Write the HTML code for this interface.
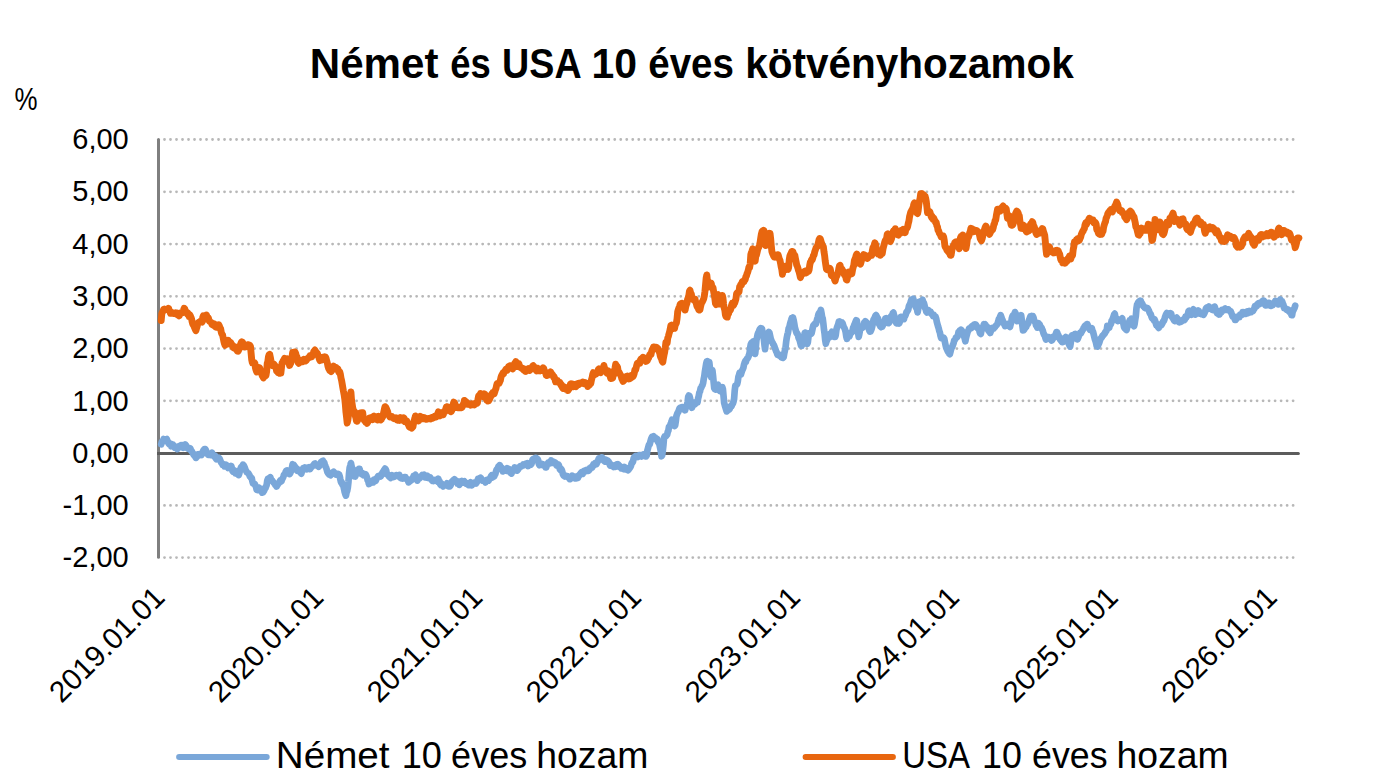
<!DOCTYPE html>
<html><head><meta charset="utf-8"><title>Német és USA 10 éves kötvényhozamok</title>
<style>
html,body{margin:0;padding:0;background:#fff;}
body{width:1384px;height:780px;overflow:hidden;font-family:"Liberation Sans",sans-serif;}
svg{display:block;}
text{font-family:"Liberation Sans",sans-serif;fill:#000;}
.title{font-weight:bold;font-size:41.6px;}
.tick text{font-size:29.6px;}
.leg{font-size:36.5px;}
.grid line{stroke:#b8b8b8;stroke-width:2.8;stroke-dasharray:0.01 5.9932;stroke-linecap:round;}
</style></head>
<body>
<svg width="1384" height="780" viewBox="0 0 1384 780">
<rect width="1384" height="780" fill="#ffffff"/>
<g transform="translate(309.8,77.8) scale(1.0121,1)"><text class="title">Német</text></g><g transform="translate(450.35,77.8) scale(0.8737,1)"><text class="title">és</text></g><g transform="translate(502.11,77.8) scale(0.9054,1)"><text class="title">USA</text></g><g transform="translate(591.38,77.8) scale(0.9843,1)"><text class="title">10</text></g><g transform="translate(648.26,77.8) scale(0.9256,1)"><text class="title">éves</text></g><g transform="translate(745.14,77.8) scale(0.9738,1)"><text class="title">kötvényhozamok</text></g>
<g class="tick"><g transform="translate(14.6,109.8) scale(0.85,1)"><text style="font-size:30.5px">%</text></g></g>
<g class="grid">
<line x1="164.5" y1="139.5" x2="1295" y2="139.5"/>
<line x1="164.5" y1="191.8" x2="1295" y2="191.8"/>
<line x1="164.5" y1="244.1" x2="1295" y2="244.1"/>
<line x1="164.5" y1="296.3" x2="1295" y2="296.3"/>
<line x1="164.5" y1="348.6" x2="1295" y2="348.6"/>
<line x1="164.5" y1="400.8" x2="1295" y2="400.8"/>
<line x1="164.5" y1="505.4" x2="1295" y2="505.4"/>
<line x1="164.5" y1="557.6" x2="1295" y2="557.6"/>
</g>
<line x1="158.5" y1="139.5" x2="158.5" y2="557.3" stroke="#7f7f7f" stroke-width="3" stroke-linecap="round"/>
<line x1="157" y1="453.5" x2="1298.4" y2="453.5" stroke="#5c5c5c" stroke-width="3"/><circle cx="1298.4" cy="453.5" r="1.5" fill="#5c5c5c"/>
<g class="tick">
<g transform="translate(128.7,149) scale(0.98,1)"><text text-anchor="end">6,00</text></g>
<g transform="translate(128.7,201) scale(0.98,1)"><text text-anchor="end">5,00</text></g>
<g transform="translate(128.7,254) scale(0.98,1)"><text text-anchor="end">4,00</text></g>
<g transform="translate(128.7,306) scale(0.98,1)"><text text-anchor="end">3,00</text></g>
<g transform="translate(128.7,358) scale(0.98,1)"><text text-anchor="end">2,00</text></g>
<g transform="translate(128.7,411) scale(0.98,1)"><text text-anchor="end">1,00</text></g>
<g transform="translate(128.7,463) scale(0.98,1)"><text text-anchor="end">0,00</text></g>
<g transform="translate(128.7,515) scale(0.98,1)"><text text-anchor="end">-1,00</text></g>
<g transform="translate(128.7,567) scale(0.98,1)"><text text-anchor="end">-2,00</text></g>
</g>
<g class="tick">
<g transform="translate(166.3,599.2) rotate(-45) scale(1,1)"><text text-anchor="end">2019.01.01</text></g>
<g transform="translate(325.2,599.2) rotate(-45) scale(1,1)"><text text-anchor="end">2020.01.01</text></g>
<g transform="translate(484.1,599.2) rotate(-45) scale(1,1)"><text text-anchor="end">2021.01.01</text></g>
<g transform="translate(643.0,599.2) rotate(-45) scale(1,1)"><text text-anchor="end">2022.01.01</text></g>
<g transform="translate(801.9,599.2) rotate(-45) scale(1,1)"><text text-anchor="end">2023.01.01</text></g>
<g transform="translate(960.8,599.2) rotate(-45) scale(1,1)"><text text-anchor="end">2024.01.01</text></g>
<g transform="translate(1119.7,599.2) rotate(-45) scale(1,1)"><text text-anchor="end">2025.01.01</text></g>
<g transform="translate(1278.6,599.2) rotate(-45) scale(1,1)"><text text-anchor="end">2026.01.01</text></g>
</g>
<polyline fill="none" stroke="#7aa7d9" stroke-width="6.7" stroke-linejoin="round" stroke-linecap="round" points="161.2,444.26 161.82,441.95 162.44,441.72 163.06,440.56 163.68,439.05 164.3,439.26 164.92,439.87 165.54,440.69 166.16,439.48 166.78,439.13 167.4,440.86 168.02,441.84 168.64,443.52 169.26,444.19 169.88,443.83 170.5,443.7 171.12,446.26 171.74,445.45 172.36,444.79 172.98,444.61 173.6,445.97 174.22,447.13 174.84,447.72 175.46,447.93 176.08,448.13 176.7,448.53 177.32,449.02 177.94,448.47 178.56,446.4 179.18,447.32 179.8,445.96 180.42,446.2 181.04,445.16 181.66,445.78 182.28,445.09 182.9,445.33 183.52,447.87 184.14,446.21 184.76,445.85 185.38,444.5 186.0,445.42 186.62,447.19 187.24,447.98 187.86,448.77 188.48,448.86 189.1,448.04 189.72,449.0 190.34,448.44 190.96,450.7 191.58,450.73 192.2,452.22 192.82,452.91 193.44,454.52 194.06,454.39 194.68,456.06 195.3,456.4 195.92,457.86 196.54,457.2 197.16,456.14 197.78,454.5 198.4,454.63 199.02,454.17 199.64,455.23 200.26,454.34 200.88,454.74 201.5,455.02 202.12,453.83 202.74,452.05 203.36,450.47 203.98,449.75 204.6,449.0 205.22,449.11 205.84,450.07 206.46,452.16 207.08,453.23 207.7,454.25 208.32,454.91 208.94,454.63 209.56,453.98 210.18,454.05 210.8,454.87 211.42,453.48 212.04,452.75 212.66,455.08 213.28,455.18 213.9,456.13 214.52,456.85 215.14,455.76 215.76,458.25 216.38,459.23 217.0,458.58 217.62,458.87 218.24,458.67 218.86,457.86 219.48,458.5 220.1,459.86 220.72,461.66 221.34,462.73 221.96,463.18 222.58,464.9 223.2,464.07 223.82,465.15 224.44,466.25 225.06,465.88 225.68,464.63 226.3,464.92 226.92,466.1 227.54,466.82 228.16,468.08 228.78,466.61 229.4,466.65 230.02,467.24 230.64,467.49 231.26,466.03 231.88,468.2 232.5,470.96 233.12,471.64 233.74,470.44 234.36,470.3 234.98,470.9 235.6,473.3 236.22,473.17 236.84,472.83 237.46,474.08 238.08,473.56 238.7,475.1 239.32,473.41 239.94,470.29 240.56,468.49 241.18,467.0 241.8,466.59 242.42,466.47 243.04,464.71 243.66,465.37 244.28,466.61 244.9,467.91 245.52,470.14 246.14,470.8 246.76,472.24 247.38,472.72 248.0,472.9 248.62,473.67 249.24,474.67 249.86,476.46 250.48,476.87 251.1,477.86 251.72,478.01 252.34,481.16 252.96,483.33 253.58,483.69 254.2,484.2 254.82,484.09 255.44,485.64 256.06,486.95 256.68,489.78 257.3,490.11 257.92,489.36 258.54,487.52 259.16,489.89 259.78,490.26 260.4,489.04 261.02,490.0 261.64,489.11 262.26,492.62 262.88,492.41 263.5,491.73 264.12,490.6 264.74,488.21 265.36,488.49 265.98,486.6 266.6,485.18 267.22,480.85 267.84,478.94 268.46,479.31 269.08,479.18 269.7,477.76 270.32,477.18 270.94,479.2 271.56,480.56 272.18,480.51 272.8,481.36 273.42,482.39 274.04,483.09 274.66,483.44 275.28,485.0 275.9,485.32 276.52,486.59 277.14,485.4 277.76,484.56 278.38,483.18 279.0,483.01 279.62,481.76 280.24,480.54 280.86,481.65 281.48,481.05 282.1,479.25 282.72,478.21 283.34,476.83 283.96,474.89 284.58,474.15 285.2,473.0 285.82,471.41 286.44,470.58 287.06,470.36 287.68,471.54 288.3,472.38 288.92,472.36 289.54,474.03 290.16,473.42 290.78,471.78 291.4,470.59 292.02,467.36 292.64,464.19 293.26,465.56 293.88,465.08 294.5,466.52 295.12,466.72 295.74,468.51 296.36,469.85 296.98,468.72 297.6,470.88 298.22,470.54 298.84,470.4 299.46,470.7 300.08,472.01 300.7,472.94 301.32,473.67 301.94,471.51 302.56,470.53 303.18,468.11 303.8,468.36 304.42,468.74 305.04,467.49 305.66,468.06 306.28,468.37 306.9,469.19 307.52,468.09 308.14,467.48 308.76,467.2 309.38,469.05 310.0,469.11 310.62,467.9 311.24,467.32 311.86,466.69 312.48,466.21 313.1,465.55 313.72,464.95 314.34,463.7 314.96,463.4 315.58,465.04 316.2,465.36 316.82,465.48 317.44,465.51 318.06,465.97 318.68,466.68 319.3,466.09 319.92,464.78 320.54,463.37 321.16,461.97 321.78,461.54 322.4,461.12 323.02,460.84 323.64,463.13 324.26,462.63 324.88,464.79 325.5,466.33 326.12,467.7 326.74,469.56 327.36,472.01 327.98,473.01 328.6,473.93 329.22,474.53 329.84,474.48 330.46,475.27 331.08,474.53 331.7,473.41 332.32,472.63 332.94,472.25 333.56,471.72 334.18,473.47 334.8,473.73 335.42,473.29 336.04,474.56 336.66,473.7 337.28,474.52 337.9,475.12 338.52,474.05 339.14,474.69 339.76,476.32 340.38,479.51 341.0,482.2 341.62,481.95 342.24,484.3 342.86,484.94 343.48,486.37 344.1,489.15 344.72,492.27 345.34,494.11 345.96,495.63 346.58,492.4 347.2,490.73 347.82,487.61 348.44,482.02 349.06,473.05 349.68,467.7 350.3,465.59 350.92,463.04 351.54,465.95 352.16,468.92 352.78,470.78 353.4,474.37 354.02,476.3 354.64,476.34 355.26,476.49 355.88,474.66 356.5,472.94 357.12,471.16 357.74,469.55 358.36,469.57 358.98,468.79 359.6,468.86 360.22,471.71 360.84,472.78 361.46,473.93 362.08,473.32 362.7,474.29 363.32,475.14 363.94,473.74 364.56,474.93 365.18,474.26 365.8,474.49 366.42,475.91 367.04,477.73 367.66,480.32 368.28,481.12 368.9,483.98 369.52,483.3 370.14,482.14 370.76,482.76 371.38,481.46 372.0,481.19 372.62,481.96 373.24,482.31 373.86,479.72 374.48,480.01 375.1,481.1 375.72,480.88 376.34,479.31 376.96,477.9 377.58,477.17 378.2,475.95 378.82,475.87 379.44,475.72 380.06,475.51 380.68,476.35 381.3,475.45 381.92,473.49 382.54,473.8 383.16,471.67 383.78,470.55 384.4,469.7 385.02,468.64 385.64,469.3 386.26,470.86 386.88,474.34 387.5,474.44 388.12,474.69 388.74,476.11 389.36,476.77 389.98,477.37 390.6,477.99 391.22,475.71 391.84,475.21 392.46,475.7 393.08,476.21 393.7,477.1 394.32,476.8 394.94,475.93 395.56,475.6 396.18,475.12 396.8,475.22 397.42,475.97 398.04,475.64 398.66,475.17 399.28,474.99 399.9,476.66 400.52,477.86 401.14,478.31 401.76,478.46 402.38,478.58 403.0,477.98 403.62,478.28 404.24,477.03 404.86,477.12 405.48,477.16 406.1,478.77 406.72,478.82 407.34,479.53 407.96,480.63 408.58,482.32 409.2,481.71 409.82,480.44 410.44,481.02 411.06,479.49 411.68,479.77 412.3,478.84 412.92,478.26 413.54,476.03 414.16,476.58 414.78,475.48 415.4,474.9 416.02,477.48 416.64,477.89 417.26,480.63 417.88,479.65 418.5,478.36 419.12,477.54 419.74,478.16 420.36,476.91 420.98,476.42 421.6,476.0 422.22,475.01 422.84,475.55 423.46,475.46 424.08,474.92 424.7,476.57 425.32,477.43 425.94,477.54 426.56,476.9 427.18,475.74 427.8,477.36 428.42,477.91 429.04,477.05 429.66,478.13 430.28,477.65 430.9,478.82 431.52,479.77 432.14,480.64 432.76,481.02 433.38,481.06 434.0,479.98 434.62,480.02 435.24,479.94 435.86,480.11 436.48,480.44 437.1,480.83 437.72,481.82 438.34,478.77 438.96,480.51 439.58,481.32 440.2,484.24 440.82,485.07 441.44,483.5 442.06,484.66 442.68,484.79 443.3,486.43 443.92,485.1 444.54,485.12 445.16,485.04 445.78,484.95 446.4,484.43 447.02,483.25 447.64,484.82 448.26,486.29 448.88,486.33 449.5,485.69 450.12,486.14 450.74,485.07 451.36,483.1 451.98,481.41 452.6,481.27 453.22,480.2 453.84,480.28 454.46,479.36 455.08,480.06 455.7,480.49 456.32,480.67 456.94,481.13 457.56,483.64 458.18,483.46 458.8,483.13 459.42,484.75 460.04,483.62 460.66,481.47 461.28,481.99 461.9,481.04 462.52,482.62 463.14,481.64 463.76,481.89 464.38,481.37 465.0,482.75 465.62,482.79 466.24,483.83 466.86,484.17 467.48,483.74 468.1,484.7 468.72,485.11 469.34,484.48 469.96,483.2 470.58,482.23 471.2,482.98 471.82,485.33 472.44,484.26 473.06,483.45 473.68,483.14 474.3,482.69 474.92,482.61 475.54,482.47 476.16,483.37 476.78,482.29 477.4,480.91 478.02,478.85 478.64,479.25 479.26,479.31 479.88,478.24 480.5,477.68 481.12,478.43 481.74,480.0 482.36,480.66 482.98,480.8 483.6,480.56 484.22,481.09 484.84,480.8 485.46,482.43 486.08,480.44 486.7,479.94 487.32,480.98 487.94,479.96 488.56,480.57 489.18,479.44 489.8,478.78 490.42,477.76 491.04,476.13 491.66,475.39 492.28,477.48 492.9,477.09 493.52,476.64 494.14,476.48 494.76,474.98 495.38,473.83 496.0,471.46 496.62,469.55 497.24,469.57 497.86,468.21 498.48,466.35 499.1,465.98 499.72,465.21 500.34,466.52 500.96,467.13 501.58,467.73 502.2,469.24 502.82,471.44 503.44,470.74 504.06,470.4 504.68,469.95 505.3,469.81 505.92,470.15 506.54,470.66 507.16,468.26 507.78,469.4 508.4,468.9 509.02,469.02 509.64,471.68 510.26,471.24 510.88,473.07 511.5,473.53 512.12,471.52 512.74,471.21 513.36,470.97 513.98,469.82 514.6,467.54 515.22,468.19 515.84,468.74 516.46,468.34 517.08,470.67 517.7,470.02 518.32,468.97 518.94,468.19 519.56,467.07 520.18,466.18 520.8,466.15 521.42,466.44 522.04,465.8 522.66,465.71 523.28,464.45 523.9,465.21 524.52,464.42 525.14,464.67 525.76,463.73 526.38,463.41 527.0,463.94 527.62,463.21 528.24,466.0 528.86,465.48 529.48,465.23 530.1,464.37 530.72,464.68 531.34,464.11 531.96,462.32 532.58,459.49 533.2,459.08 533.82,459.72 534.44,459.02 535.06,458.02 535.68,457.75 536.3,458.04 536.92,458.96 537.54,459.03 538.16,460.32 538.78,463.76 539.4,465.16 540.02,463.88 540.64,464.08 541.26,464.05 541.88,463.92 542.5,464.93 543.12,464.39 543.74,464.49 544.36,464.86 544.98,465.58 545.6,467.43 546.22,467.35 546.84,464.92 547.46,464.0 548.08,462.85 548.7,463.24 549.32,462.72 549.94,463.16 550.56,462.51 551.18,460.49 551.8,461.37 552.42,462.04 553.04,462.77 553.66,461.78 554.28,462.54 554.9,462.44 555.52,462.93 556.14,464.48 556.76,465.69 557.38,465.65 558.0,465.29 558.62,464.79 559.24,466.46 559.86,469.17 560.48,470.01 561.1,468.94 561.72,469.88 562.34,471.84 562.96,474.33 563.58,475.61 564.2,475.98 564.82,476.39 565.44,475.61 566.06,475.8 566.68,476.17 567.3,476.16 567.92,477.04 568.54,477.3 569.16,478.23 569.78,479.21 570.4,479.0 571.02,478.48 571.64,477.5 572.26,475.73 572.88,476.15 573.5,477.16 574.12,476.5 574.74,478.17 575.36,477.85 575.98,478.37 576.6,478.17 577.22,476.54 577.84,478.03 578.46,475.76 579.08,475.93 579.7,474.42 580.32,474.09 580.94,472.84 581.56,472.25 582.18,472.84 582.8,473.81 583.42,471.74 584.04,471.11 584.66,471.59 585.28,470.5 585.9,470.97 586.52,469.89 587.14,470.41 587.76,470.41 588.38,470.88 589.0,470.27 589.62,468.47 590.24,468.91 590.86,467.44 591.48,467.41 592.1,467.57 592.72,466.43 593.34,464.42 593.96,465.17 594.58,464.63 595.2,463.06 595.82,462.88 596.44,464.22 597.06,462.77 597.68,461.5 598.3,459.83 598.92,458.35 599.54,458.49 600.16,459.25 600.78,459.49 601.4,459.24 602.02,457.38 602.64,459.22 603.26,459.95 603.88,460.67 604.5,461.35 605.12,460.29 605.74,459.63 606.36,460.1 606.98,461.87 607.6,460.54 608.22,461.41 608.84,461.83 609.46,463.49 610.08,465.51 610.7,465.33 611.32,464.7 611.94,465.73 612.56,466.29 613.18,465.81 613.8,467.09 614.42,466.33 615.04,466.77 615.66,465.14 616.28,466.13 616.9,464.36 617.52,465.37 618.14,464.29 618.76,466.69 619.38,466.8 620.0,466.13 620.62,467.17 621.24,468.24 621.86,467.76 622.48,468.03 623.1,468.94 623.72,469.18 624.34,466.96 624.96,468.09 625.58,468.98 626.2,469.17 626.82,469.71 627.44,468.4 628.06,470.27 628.68,469.64 629.3,468.6 629.92,467.86 630.54,466.85 631.16,465.08 631.78,463.0 632.4,462.77 633.02,461.62 633.64,458.52 634.26,456.99 634.88,456.98 635.5,456.17 636.12,455.89 636.74,456.25 637.36,455.97 637.98,456.99 638.6,455.65 639.22,455.02 639.84,455.23 640.46,455.63 641.08,455.82 641.7,456.45 642.32,455.05 642.94,455.62 643.56,455.39 644.18,454.14 644.8,454.29 645.42,456.33 646.04,456.41 646.66,455.45 647.28,450.89 647.9,448.59 648.52,446.24 649.14,444.49 649.76,444.21 650.38,441.55 651.0,439.29 651.62,437.72 652.24,436.5 652.86,436.54 653.48,436.21 654.1,438.85 654.72,438.03 655.34,437.76 655.96,439.38 656.58,439.65 657.2,438.96 657.82,441.55 658.44,442.63 659.06,443.11 659.68,445.53 660.3,448.71 660.92,451.96 661.54,456.27 662.16,455.26 662.78,450.82 663.4,445.42 664.02,437.96 664.64,436.37 665.26,436.76 665.88,436.12 666.5,435.44 667.12,434.69 667.74,431.94 668.36,430.58 668.98,426.89 669.6,426.26 670.22,425.17 670.84,423.59 671.46,421.85 672.08,419.76 672.7,420.06 673.32,423.02 673.94,424.0 674.56,426.05 675.18,425.19 675.8,421.26 676.42,416.11 677.04,414.19 677.66,412.82 678.28,411.97 678.9,410.15 679.52,408.35 680.14,407.84 680.76,408.37 681.38,408.76 682.0,407.0 682.62,407.03 683.24,408.47 683.86,409.51 684.48,408.99 685.1,410.31 685.72,407.44 686.34,406.73 686.96,404.82 687.58,402.24 688.2,396.94 688.82,395.5 689.44,395.96 690.06,398.19 690.68,402.9 691.3,406.3 691.92,407.78 692.54,405.74 693.16,403.71 693.78,402.44 694.4,404.6 695.02,404.0 695.64,403.74 696.26,402.94 696.88,402.59 697.5,402.52 698.12,398.47 698.74,396.1 699.36,392.62 699.98,391.5 700.6,388.29 701.22,387.77 701.84,386.11 702.46,385.14 703.08,383.3 703.7,379.15 704.32,376.18 704.94,371.23 705.56,367.69 706.18,363.67 706.8,361.42 707.42,361.22 708.04,361.67 708.66,361.98 709.28,362.1 709.9,367.53 710.52,374.97 711.14,377.19 711.76,374.51 712.38,370.1 713.0,375.4 713.62,381.99 714.24,388.06 714.86,389.17 715.48,389.58 716.1,389.2 716.72,387.77 717.34,384.82 717.96,384.69 718.58,387.39 719.2,390.15 719.82,390.94 720.44,390.63 721.06,390.17 721.68,388.56 722.3,387.14 722.92,389.29 723.54,396.03 724.16,402.92 724.78,405.16 725.4,407.18 726.02,409.25 726.64,411.44 727.26,410.74 727.88,409.26 728.5,409.83 729.12,409.43 729.74,408.85 730.36,406.24 730.98,405.94 731.6,406.11 732.22,404.36 732.84,403.62 733.46,401.68 734.08,398.92 734.7,390.73 735.32,385.61 735.94,385.38 736.56,384.73 737.18,384.02 737.8,381.43 738.42,376.64 739.04,375.1 739.66,372.69 740.28,373.27 740.9,374.52 741.52,372.54 742.14,370.46 742.76,369.38 743.38,367.8 744.0,364.7 744.62,362.96 745.24,361.07 745.86,362.03 746.48,359.59 747.1,358.66 747.72,358.13 748.34,356.99 748.96,355.12 749.58,352.79 750.2,347.54 750.82,344.18 751.44,342.94 752.06,342.35 752.68,344.22 753.3,341.32 753.92,346.82 754.54,350.5 755.16,353.92 755.78,348.06 756.4,340.3 757.02,337.48 757.64,334.38 758.26,332.68 758.88,331.46 759.5,329.83 760.12,328.82 760.74,328.21 761.36,328.23 761.98,328.84 762.6,332.95 763.22,334.05 763.84,339.03 764.46,344.73 765.08,349.19 765.7,343.25 766.32,338.06 766.94,335.92 767.56,334.6 768.18,333.02 768.8,331.94 769.42,332.77 770.04,335.54 770.66,338.42 771.28,340.08 771.9,342.0 772.52,342.62 773.14,344.1 773.76,344.86 774.38,346.33 775.0,348.2 775.62,349.93 776.24,351.57 776.86,352.76 777.48,354.83 778.1,354.85 778.72,354.58 779.34,355.74 779.96,355.58 780.58,355.83 781.2,357.26 781.82,356.87 782.44,355.64 783.06,357.94 783.68,357.06 784.3,353.12 784.92,350.45 785.54,347.61 786.16,341.82 786.78,337.84 787.4,334.72 788.02,332.55 788.64,328.54 789.26,327.47 789.88,324.69 790.5,322.23 791.12,320.33 791.74,318.25 792.36,318.6 792.98,317.6 793.6,319.98 794.22,323.35 794.84,327.29 795.46,329.41 796.08,331.63 796.7,333.4 797.32,333.42 797.94,335.02 798.56,337.86 799.18,339.28 799.8,340.77 800.42,343.29 801.04,345.66 801.66,345.83 802.28,343.61 802.9,341.79 803.52,341.19 804.14,336.31 804.76,332.71 805.38,332.58 806.0,335.4 806.62,340.51 807.24,343.92 807.86,342.24 808.48,336.86 809.1,333.43 809.72,334.21 810.34,334.23 810.96,333.83 811.58,333.33 812.2,330.46 812.82,327.47 813.44,325.15 814.06,325.13 814.68,324.0 815.3,323.52 815.92,323.95 816.54,321.72 817.16,319.06 817.78,317.27 818.4,314.59 819.02,313.1 819.64,313.55 820.26,311.72 820.88,309.85 821.5,313.04 822.12,317.08 822.74,318.62 823.36,323.59 823.98,329.6 824.6,333.84 825.22,340.12 825.84,343.7 826.46,341.34 827.08,340.15 827.7,337.76 828.32,335.98 828.94,335.77 829.56,337.31 830.18,333.93 830.8,334.07 831.42,333.45 832.04,331.77 832.66,332.09 833.28,333.69 833.9,335.33 834.52,337.01 835.14,337.0 835.76,334.96 836.38,329.8 837.0,327.38 837.62,325.84 838.24,324.21 838.86,321.54 839.48,321.45 840.1,321.92 840.72,322.01 841.34,322.47 841.96,322.46 842.58,323.28 843.2,325.19 843.82,327.19 844.44,328.08 845.06,329.67 845.68,332.17 846.3,336.53 846.92,338.85 847.54,336.96 848.16,336.42 848.78,336.39 849.4,336.45 850.02,334.42 850.64,332.63 851.26,332.39 851.88,332.45 852.5,331.08 853.12,327.62 853.74,326.51 854.36,324.7 854.98,323.36 855.6,321.58 856.22,320.22 856.84,320.71 857.46,327.32 858.08,332.22 858.7,336.89 859.32,333.97 859.94,330.6 860.56,328.09 861.18,327.89 861.8,327.44 862.42,327.82 863.04,326.23 863.66,324.77 864.28,322.34 864.9,322.9 865.52,321.32 866.14,323.12 866.76,322.43 867.38,324.84 868.0,326.05 868.62,328.46 869.24,330.29 869.86,331.66 870.48,331.56 871.1,330.19 871.72,328.59 872.34,325.95 872.96,322.55 873.58,319.41 874.2,318.94 874.82,317.28 875.44,315.87 876.06,315.05 876.68,316.25 877.3,317.65 877.92,318.1 878.54,321.28 879.16,324.28 879.78,325.22 880.4,326.41 881.02,327.08 881.64,326.39 882.26,326.63 882.88,325.16 883.5,324.16 884.12,321.88 884.74,320.49 885.36,318.48 885.98,318.17 886.6,319.88 887.22,321.33 887.84,322.94 888.46,323.22 889.08,322.69 889.7,320.8 890.32,317.42 890.94,316.34 891.56,316.72 892.18,315.8 892.8,313.23 893.42,312.62 894.04,315.21 894.66,316.89 895.28,319.89 895.9,322.42 896.52,323.3 897.14,323.47 897.76,322.82 898.38,322.7 899.0,323.46 899.62,322.59 900.24,320.0 900.86,316.85 901.48,316.8 902.1,317.25 902.72,317.82 903.34,318.74 903.96,319.08 904.58,316.28 905.2,315.8 905.82,314.41 906.44,312.28 907.06,311.57 907.68,310.65 908.3,309.42 908.92,306.03 909.54,304.85 910.16,303.75 910.78,301.79 911.4,299.55 912.02,299.7 912.64,299.62 913.26,298.74 913.88,301.43 914.5,303.61 915.12,305.45 915.74,307.19 916.36,307.86 916.98,309.16 917.6,312.34 918.22,308.96 918.84,305.38 919.46,301.65 920.08,301.62 920.7,301.97 921.32,300.73 921.94,300.74 922.56,299.84 923.18,302.11 923.8,302.77 924.42,304.95 925.04,307.93 925.66,309.11 926.28,311.57 926.9,312.48 927.52,311.76 928.14,311.23 928.76,310.37 929.38,311.64 930.0,311.92 930.62,311.8 931.24,313.86 931.86,314.22 932.48,314.32 933.1,316.03 933.72,314.84 934.34,316.28 934.96,316.23 935.58,316.8 936.2,318.55 936.82,321.82 937.44,324.17 938.06,326.36 938.68,328.22 939.3,331.0 939.92,332.6 940.54,335.83 941.16,337.95 941.78,337.5 942.4,337.89 943.02,337.5 943.64,337.68 944.26,338.75 944.88,341.98 945.5,344.89 946.12,347.53 946.74,348.96 947.36,350.33 947.98,351.88 948.6,351.03 949.22,353.64 949.84,354.14 950.46,351.83 951.08,349.32 951.7,347.53 952.32,346.82 952.94,344.73 953.56,343.38 954.18,340.5 954.8,339.96 955.42,338.87 956.04,337.44 956.66,337.21 957.28,336.91 957.9,335.33 958.52,332.17 959.14,331.65 959.76,330.54 960.38,330.26 961.0,329.65 961.62,330.2 962.24,332.0 962.86,333.49 963.48,334.86 964.1,336.75 964.72,338.5 965.34,341.26 965.96,338.2 966.58,335.79 967.2,333.35 967.82,331.23 968.44,330.45 969.06,328.55 969.68,328.67 970.3,328.43 970.92,327.22 971.54,327.99 972.16,326.12 972.78,325.98 973.4,325.63 974.02,324.68 974.64,324.32 975.26,324.99 975.88,324.72 976.5,325.8 977.12,327.8 977.74,328.35 978.36,327.58 978.98,329.02 979.6,331.88 980.22,333.39 980.84,333.9 981.46,330.21 982.08,329.02 982.7,328.79 983.32,326.57 983.94,324.21 984.56,324.8 985.18,324.35 985.8,325.32 986.42,326.2 987.04,326.56 987.66,328.32 988.28,330.25 988.9,331.31 989.52,331.59 990.14,333.04 990.76,331.34 991.38,330.43 992.0,328.09 992.62,327.77 993.24,327.93 993.86,328.33 994.48,327.35 995.1,327.01 995.72,325.82 996.34,325.46 996.96,324.54 997.58,323.74 998.2,321.5 998.82,319.01 999.44,318.05 1000.06,316.85 1000.68,315.17 1001.3,316.83 1001.92,318.86 1002.54,320.06 1003.16,321.89 1003.78,323.55 1004.4,324.39 1005.02,326.06 1005.64,325.19 1006.26,325.22 1006.88,325.05 1007.5,323.91 1008.12,325.45 1008.74,325.18 1009.36,326.06 1009.98,326.85 1010.6,324.36 1011.22,322.45 1011.84,318.19 1012.46,316.18 1013.08,315.31 1013.7,315.42 1014.32,315.01 1014.94,312.08 1015.56,313.23 1016.18,315.18 1016.8,317.47 1017.42,321.06 1018.04,320.23 1018.66,320.82 1019.28,319.64 1019.9,317.35 1020.52,316.51 1021.14,315.28 1021.76,319.74 1022.38,325.67 1023.0,330.34 1023.62,330.2 1024.24,329.53 1024.86,328.28 1025.48,327.56 1026.1,327.03 1026.72,325.35 1027.34,323.66 1027.96,323.89 1028.58,322.13 1029.2,319.61 1029.82,318.28 1030.44,316.41 1031.06,316.95 1031.68,316.06 1032.3,316.35 1032.92,316.22 1033.54,317.82 1034.16,320.6 1034.78,321.79 1035.4,322.18 1036.02,325.46 1036.64,325.87 1037.26,327.5 1037.88,325.57 1038.5,323.29 1039.12,324.37 1039.74,324.54 1040.36,326.35 1040.98,328.26 1041.6,327.78 1042.22,329.58 1042.84,330.82 1043.46,333.23 1044.08,334.79 1044.7,335.32 1045.32,337.45 1045.94,339.47 1046.56,338.6 1047.18,338.64 1047.8,337.54 1048.42,337.13 1049.04,337.03 1049.66,337.4 1050.28,338.98 1050.9,339.85 1051.52,340.53 1052.14,340.08 1052.76,338.77 1053.38,336.61 1054.0,336.91 1054.62,337.29 1055.24,335.68 1055.86,333.64 1056.48,332.11 1057.1,332.27 1057.72,334.12 1058.34,335.03 1058.96,337.16 1059.58,338.25 1060.2,339.69 1060.82,340.47 1061.44,341.03 1062.06,342.15 1062.68,342.09 1063.3,339.53 1063.92,338.33 1064.54,338.06 1065.16,337.98 1065.78,337.0 1066.4,338.26 1067.02,337.72 1067.64,340.57 1068.26,342.87 1068.88,344.17 1069.5,345.47 1070.12,346.54 1070.74,343.14 1071.36,337.76 1071.98,335.29 1072.6,336.17 1073.22,335.91 1073.84,335.3 1074.46,334.27 1075.08,333.9 1075.7,334.63 1076.32,338.36 1076.94,337.41 1077.56,339.36 1078.18,337.82 1078.8,336.12 1079.42,334.53 1080.04,332.92 1080.66,333.52 1081.28,332.61 1081.9,331.34 1082.52,330.22 1083.14,329.47 1083.76,327.57 1084.38,326.84 1085.0,325.81 1085.62,326.31 1086.24,326.38 1086.86,324.18 1087.48,324.15 1088.1,327.12 1088.72,327.71 1089.34,328.5 1089.96,329.79 1090.58,329.48 1091.2,328.95 1091.82,328.28 1092.44,330.57 1093.06,331.94 1093.68,334.35 1094.3,336.89 1094.92,339.45 1095.54,341.19 1096.16,343.44 1096.78,346.37 1097.4,346.57 1098.02,345.61 1098.64,343.97 1099.26,342.73 1099.88,340.8 1100.5,339.0 1101.12,337.89 1101.74,337.43 1102.36,335.85 1102.98,335.56 1103.6,334.84 1104.22,333.9 1104.84,333.5 1105.46,331.71 1106.08,331.15 1106.7,330.15 1107.32,325.99 1107.94,326.62 1108.56,326.86 1109.18,327.78 1109.8,325.43 1110.42,324.75 1111.04,323.71 1111.66,320.6 1112.28,319.73 1112.9,318.39 1113.52,316.38 1114.14,314.49 1114.76,313.63 1115.38,316.79 1116.0,319.8 1116.62,318.44 1117.24,319.07 1117.86,321.0 1118.48,320.7 1119.1,319.91 1119.72,320.31 1120.34,319.86 1120.96,319.51 1121.58,319.07 1122.2,318.39 1122.82,322.16 1123.44,323.82 1124.06,327.13 1124.68,328.45 1125.3,328.8 1125.92,329.45 1126.54,330.02 1127.16,327.37 1127.78,326.07 1128.4,325.24 1129.02,322.33 1129.64,320.41 1130.26,321.02 1130.88,320.58 1131.5,318.74 1132.12,321.18 1132.74,322.81 1133.36,325.29 1133.98,326.28 1134.6,324.1 1135.22,319.65 1135.84,316.0 1136.46,308.49 1137.08,304.52 1137.7,303.51 1138.32,302.16 1138.94,302.11 1139.56,301.07 1140.18,300.56 1140.8,300.95 1141.42,303.06 1142.04,303.31 1142.66,304.9 1143.28,306.23 1143.9,306.3 1144.52,307.59 1145.14,308.19 1145.76,308.28 1146.38,307.99 1147.0,308.57 1147.62,308.19 1148.24,309.53 1148.86,310.46 1149.48,312.29 1150.1,313.68 1150.72,314.17 1151.34,316.19 1151.96,318.08 1152.58,318.67 1153.2,318.83 1153.82,320.37 1154.44,319.21 1155.06,320.58 1155.68,322.76 1156.3,325.05 1156.92,324.07 1157.54,325.57 1158.16,327.21 1158.78,327.87 1159.4,324.62 1160.02,325.35 1160.64,324.85 1161.26,325.12 1161.88,324.12 1162.5,323.07 1163.12,321.35 1163.74,321.12 1164.36,319.7 1164.98,317.23 1165.6,315.52 1166.22,314.17 1166.84,312.99 1167.46,313.5 1168.08,313.72 1168.7,314.22 1169.32,314.96 1169.94,314.54 1170.56,313.31 1171.18,313.7 1171.8,316.86 1172.42,317.57 1173.04,318.44 1173.66,319.54 1174.28,320.75 1174.9,321.06 1175.52,319.61 1176.14,318.09 1176.76,317.63 1177.38,318.46 1178.0,319.78 1178.62,321.93 1179.24,322.27 1179.86,321.77 1180.48,321.8 1181.1,321.87 1181.72,321.16 1182.34,320.61 1182.96,319.76 1183.58,319.37 1184.2,320.03 1184.82,319.53 1185.44,316.62 1186.06,317.64 1186.68,316.81 1187.3,315.12 1187.92,314.15 1188.54,311.07 1189.16,310.7 1189.78,312.73 1190.4,314.27 1191.02,314.71 1191.64,312.09 1192.26,310.93 1192.88,310.55 1193.5,309.37 1194.12,312.52 1194.74,312.82 1195.36,314.54 1195.98,313.74 1196.6,313.36 1197.22,312.36 1197.84,312.28 1198.46,310.56 1199.08,311.4 1199.7,313.69 1200.32,312.67 1200.94,313.55 1201.56,314.07 1202.18,313.67 1202.8,313.74 1203.42,314.79 1204.04,314.05 1204.66,312.61 1205.28,311.0 1205.9,308.45 1206.52,307.76 1207.14,308.38 1207.76,308.84 1208.38,307.55 1209.0,306.52 1209.62,307.42 1210.24,308.6 1210.86,308.67 1211.48,309.0 1212.1,309.82 1212.72,310.14 1213.34,309.19 1213.96,309.18 1214.58,306.54 1215.2,308.21 1215.82,310.62 1216.44,311.27 1217.06,313.18 1217.68,311.8 1218.3,311.25 1218.92,314.54 1219.54,314.39 1220.16,313.08 1220.78,312.83 1221.4,312.14 1222.02,309.88 1222.64,309.91 1223.26,310.56 1223.88,309.44 1224.5,308.89 1225.12,308.46 1225.74,309.78 1226.36,309.69 1226.98,309.88 1227.6,309.43 1228.22,309.26 1228.84,310.14 1229.46,310.84 1230.08,310.96 1230.7,311.25 1231.32,313.06 1231.94,314.54 1232.56,316.49 1233.18,316.31 1233.8,316.62 1234.42,317.93 1235.04,319.86 1235.66,319.92 1236.28,318.96 1236.9,317.36 1237.52,316.67 1238.14,317.13 1238.76,317.02 1239.38,317.11 1240.0,314.73 1240.62,315.41 1241.24,314.14 1241.86,314.61 1242.48,312.22 1243.1,312.77 1243.72,312.31 1244.34,313.8 1244.96,313.43 1245.58,313.79 1246.2,312.22 1246.82,313.14 1247.44,311.5 1248.06,313.05 1248.68,311.97 1249.3,311.05 1249.92,312.25 1250.54,311.88 1251.16,312.05 1251.78,311.14 1252.4,311.38 1253.02,310.87 1253.64,309.41 1254.26,309.08 1254.88,306.13 1255.5,306.8 1256.12,305.59 1256.74,306.08 1257.36,304.41 1257.98,303.58 1258.6,303.23 1259.22,303.59 1259.84,303.98 1260.46,303.22 1261.08,302.29 1261.7,302.61 1262.32,302.95 1262.94,300.75 1263.56,300.54 1264.18,301.27 1264.8,303.99 1265.42,305.36 1266.04,305.45 1266.66,304.79 1267.28,302.85 1267.9,303.52 1268.52,302.89 1269.14,302.8 1269.76,305.37 1270.38,304.16 1271.0,305.9 1271.62,305.67 1272.24,304.58 1272.86,304.92 1273.48,303.88 1274.1,303.6 1274.72,302.37 1275.34,300.88 1275.96,303.0 1276.58,301.31 1277.2,302.83 1277.82,303.15 1278.44,304.33 1279.06,303.54 1279.68,302.3 1280.3,299.41 1280.92,301.23 1281.54,301.56 1282.16,301.45 1282.78,303.5 1283.4,304.78 1284.02,307.86 1284.64,307.61 1285.26,308.42 1285.88,308.98 1286.5,309.79 1287.12,309.57 1287.74,309.33 1288.36,310.37 1288.98,311.61 1289.6,310.43 1290.22,310.51 1290.84,312.15 1291.46,315.17 1292.08,315.21 1292.7,311.42 1293.32,310.54 1293.94,308.96 1294.56,307.96 1295.18,305.76"/>
<polyline fill="none" stroke="#e8660f" stroke-width="6.9" stroke-linejoin="round" stroke-linecap="round" points="161.2,320.54 161.82,313.64 162.44,312.21 163.06,310.87 163.68,309.32 164.3,309.01 164.92,309.89 165.54,309.42 166.16,309.51 166.78,309.44 167.4,309.78 168.02,309.94 168.64,308.36 169.26,310.27 169.88,311.88 170.5,313.29 171.12,312.4 171.74,312.38 172.36,312.84 172.98,312.96 173.6,313.61 174.22,313.43 174.84,313.71 175.46,312.88 176.08,313.48 176.7,313.92 177.32,313.15 177.94,315.13 178.56,315.1 179.18,315.75 179.8,314.13 180.42,313.07 181.04,312.82 181.66,312.86 182.28,312.74 182.9,311.79 183.52,310.12 184.14,308.24 184.76,308.91 185.38,311.54 186.0,311.36 186.62,312.73 187.24,313.98 187.86,312.99 188.48,314.29 189.1,316.57 189.72,314.82 190.34,315.85 190.96,317.31 191.58,318.94 192.2,322.1 192.82,324.23 193.44,324.03 194.06,326.38 194.68,327.88 195.3,329.35 195.92,330.56 196.54,328.41 197.16,326.3 197.78,323.02 198.4,322.72 199.02,322.16 199.64,322.09 200.26,321.29 200.88,321.22 201.5,321.69 202.12,322.11 202.74,317.5 203.36,315.79 203.98,317.02 204.6,318.85 205.22,318.94 205.84,316.5 206.46,315.02 207.08,317.28 207.7,317.63 208.32,317.64 208.94,319.94 209.56,321.53 210.18,321.69 210.8,322.14 211.42,322.82 212.04,324.59 212.66,324.83 213.28,325.1 213.9,325.52 214.52,323.88 215.14,326.06 215.76,327.18 216.38,327.26 217.0,324.86 217.62,324.96 218.24,326.56 218.86,324.86 219.48,326.19 220.1,329.13 220.72,329.06 221.34,332.57 221.96,334.08 222.58,335.02 223.2,337.96 223.82,341.17 224.44,343.67 225.06,345.36 225.68,343.44 226.3,342.37 226.92,342.97 227.54,342.02 228.16,340.33 228.78,341.99 229.4,343.91 230.02,343.39 230.64,342.51 231.26,343.6 231.88,344.51 232.5,345.2 233.12,347.36 233.74,346.33 234.36,348.26 234.98,347.02 235.6,347.03 236.22,348.67 236.84,350.29 237.46,351.12 238.08,351.29 238.7,349.96 239.32,348.03 239.94,346.61 240.56,344.3 241.18,342.7 241.8,341.76 242.42,342.25 243.04,343.67 243.66,344.65 244.28,347.01 244.9,347.01 245.52,346.24 246.14,345.33 246.76,345.06 247.38,345.72 248.0,344.68 248.62,344.71 249.24,347.53 249.86,345.43 250.48,346.35 251.1,353.18 251.72,359.81 252.34,362.81 252.96,362.44 253.58,363.4 254.2,363.63 254.82,363.03 255.44,367.78 256.06,370.16 256.68,371.94 257.3,371.48 257.92,370.89 258.54,370.59 259.16,367.62 259.78,368.08 260.4,371.07 261.02,371.77 261.64,374.08 262.26,375.78 262.88,376.65 263.5,377.87 264.12,375.47 264.74,375.61 265.36,375.82 265.98,375.52 266.6,371.62 267.22,363.5 267.84,361.46 268.46,356.7 269.08,354.72 269.7,354.28 270.32,357.18 270.94,360.71 271.56,362.23 272.18,364.31 272.8,365.79 273.42,365.06 274.04,364.24 274.66,365.22 275.28,366.06 275.9,366.6 276.52,370.72 277.14,369.87 277.76,372.24 278.38,372.92 279.0,372.86 279.62,373.4 280.24,373.22 280.86,373.18 281.48,367.54 282.1,362.82 282.72,361.81 283.34,360.55 283.96,359.56 284.58,358.34 285.2,360.17 285.82,360.43 286.44,361.06 287.06,358.76 287.68,358.83 288.3,359.33 288.92,362.26 289.54,365.44 290.16,364.34 290.78,363.21 291.4,360.81 292.02,357.12 292.64,352.57 293.26,354.1 293.88,353.19 294.5,351.93 295.12,352.0 295.74,353.52 296.36,356.68 296.98,356.75 297.6,359.79 298.22,362.65 298.84,363.3 299.46,361.83 300.08,360.41 300.7,361.33 301.32,360.88 301.94,360.59 302.56,361.75 303.18,361.35 303.8,359.37 304.42,360.47 305.04,359.79 305.66,360.87 306.28,360.55 306.9,359.02 307.52,358.36 308.14,358.43 308.76,357.29 309.38,357.49 310.0,355.8 310.62,356.11 311.24,356.57 311.86,356.77 312.48,354.43 313.1,354.54 313.72,351.67 314.34,350.87 314.96,350.0 315.58,352.69 316.2,352.01 316.82,353.0 317.44,353.51 318.06,355.46 318.68,356.86 319.3,358.95 319.92,360.61 320.54,359.68 321.16,359.55 321.78,359.85 322.4,358.71 323.02,357.15 323.64,357.05 324.26,358.64 324.88,356.82 325.5,356.88 326.12,358.55 326.74,361.02 327.36,363.12 327.98,366.2 328.6,368.39 329.22,369.38 329.84,370.67 330.46,370.87 331.08,371.64 331.7,370.14 332.32,368.56 332.94,367.4 333.56,366.15 334.18,367.5 334.8,367.37 335.42,369.03 336.04,367.41 336.66,369.4 337.28,369.71 337.9,368.77 338.52,371.39 339.14,372.65 339.76,371.93 340.38,374.21 341.0,378.02 341.62,380.48 342.24,384.19 342.86,387.79 343.48,391.36 344.1,394.47 344.72,398.67 345.34,404.39 345.96,412.11 346.58,417.43 347.2,423.08 347.82,420.34 348.44,415.44 349.06,409.23 349.68,404.63 350.3,395.4 350.92,391.98 351.54,400.17 352.16,403.94 352.78,408.14 353.4,410.77 354.02,410.73 354.64,411.91 355.26,415.65 355.88,417.66 356.5,421.22 357.12,421.34 357.74,420.0 358.36,417.48 358.98,415.0 359.6,413.12 360.22,413.03 360.84,414.15 361.46,413.9 362.08,412.74 362.7,412.64 363.32,417.59 363.94,419.55 364.56,420.91 365.18,419.21 365.8,422.26 366.42,422.33 367.04,423.33 367.66,422.4 368.28,421.15 368.9,420.82 369.52,417.94 370.14,419.1 370.76,418.79 371.38,417.48 372.0,418.61 372.62,419.54 373.24,416.66 373.86,416.25 374.48,417.16 375.1,417.68 375.72,417.51 376.34,416.98 376.96,419.72 377.58,419.94 378.2,417.76 378.82,416.35 379.44,418.55 380.06,418.98 380.68,419.98 381.3,419.45 381.92,417.41 382.54,417.35 383.16,414.83 383.78,412.08 384.4,409.18 385.02,406.68 385.64,406.99 386.26,408.23 386.88,409.94 387.5,411.27 388.12,413.52 388.74,415.15 389.36,415.96 389.98,417.1 390.6,417.16 391.22,416.48 391.84,416.48 392.46,417.28 393.08,417.78 393.7,418.35 394.32,418.54 394.94,418.89 395.56,418.85 396.18,417.78 396.8,418.93 397.42,420.21 398.04,420.34 398.66,419.83 399.28,420.24 399.9,419.09 400.52,417.57 401.14,418.74 401.76,418.46 402.38,420.21 403.0,419.5 403.62,417.7 404.24,418.44 404.86,421.6 405.48,421.52 406.1,420.63 406.72,420.89 407.34,422.78 407.96,424.08 408.58,424.76 409.2,426.73 409.82,427.32 410.44,427.2 411.06,427.52 411.68,428.07 412.3,427.41 412.92,426.82 413.54,423.34 414.16,420.52 414.78,418.68 415.4,415.97 416.02,417.52 416.64,418.13 417.26,419.01 417.88,418.6 418.5,420.94 419.12,420.06 419.74,417.74 420.36,416.41 420.98,418.23 421.6,417.11 422.22,417.99 422.84,418.85 423.46,418.61 424.08,417.58 424.7,418.06 425.32,418.36 425.94,419.24 426.56,419.33 427.18,418.56 427.8,418.92 428.42,418.79 429.04,418.58 429.66,418.37 430.28,418.03 430.9,418.83 431.52,417.6 432.14,417.43 432.76,418.05 433.38,417.0 434.0,417.52 434.62,416.32 435.24,416.56 435.86,417.01 436.48,416.76 437.1,415.51 437.72,414.14 438.34,411.79 438.96,414.56 439.58,414.88 440.2,415.75 440.82,414.36 441.44,414.41 442.06,412.91 442.68,414.48 443.3,414.68 443.92,411.57 444.54,411.33 445.16,411.49 445.78,408.8 446.4,406.87 447.02,406.75 447.64,407.52 448.26,407.28 448.88,408.69 449.5,409.79 450.12,410.89 450.74,411.68 451.36,411.35 451.98,410.01 452.6,406.08 453.22,404.0 453.84,402.16 454.46,402.66 455.08,404.36 455.7,405.81 456.32,407.53 456.94,406.83 457.56,407.12 458.18,407.77 458.8,407.84 459.42,407.65 460.04,407.68 460.66,406.89 461.28,407.81 461.9,407.59 462.52,406.27 463.14,404.49 463.76,403.54 464.38,400.38 465.0,401.0 465.62,402.48 466.24,401.87 466.86,403.35 467.48,404.23 468.1,403.3 468.72,403.79 469.34,403.89 469.96,404.68 470.58,405.22 471.2,404.82 471.82,403.74 472.44,403.81 473.06,403.88 473.68,404.81 474.3,404.98 474.92,404.11 475.54,403.05 476.16,403.51 476.78,403.44 477.4,403.09 478.02,398.97 478.64,395.8 479.26,395.37 479.88,395.09 480.5,393.52 481.12,395.66 481.74,394.73 482.36,395.81 482.98,395.59 483.6,396.63 484.22,393.87 484.84,394.15 485.46,395.67 486.08,397.18 486.7,400.04 487.32,399.88 487.94,401.04 488.56,400.82 489.18,400.0 489.8,398.72 490.42,396.96 491.04,396.27 491.66,393.91 492.28,394.47 492.9,392.36 493.52,392.23 494.14,393.75 494.76,391.97 495.38,389.85 496.0,388.37 496.62,385.34 497.24,383.44 497.86,383.39 498.48,383.47 499.1,383.43 499.72,381.72 500.34,380.5 500.96,377.42 501.58,375.68 502.2,374.7 502.82,373.19 503.44,373.94 504.06,371.95 504.68,371.96 505.3,370.53 505.92,369.25 506.54,369.67 507.16,370.12 507.78,368.64 508.4,366.81 509.02,366.93 509.64,365.79 510.26,365.67 510.88,367.39 511.5,368.14 512.12,367.09 512.74,368.94 513.36,366.71 513.98,365.8 514.6,363.4 515.22,362.8 515.84,361.63 516.46,364.81 517.08,366.41 517.7,364.99 518.32,364.2 518.94,363.93 519.56,366.8 520.18,366.97 520.8,367.7 521.42,368.09 522.04,368.74 522.66,368.37 523.28,369.52 523.9,368.93 524.52,370.21 525.14,371.31 525.76,371.44 526.38,370.59 527.0,369.25 527.62,369.36 528.24,368.57 528.86,370.39 529.48,370.62 530.1,369.87 530.72,369.1 531.34,368.44 531.96,367.29 532.58,366.23 533.2,365.7 533.82,366.45 534.44,367.24 535.06,369.36 535.68,367.9 536.3,367.97 536.92,370.96 537.54,368.15 538.16,368.63 538.78,370.0 539.4,370.78 540.02,370.92 540.64,370.24 541.26,370.36 541.88,370.01 542.5,370.42 543.12,367.88 543.74,368.52 544.36,370.63 544.98,371.37 545.6,372.39 546.22,375.23 546.84,375.54 547.46,375.33 548.08,374.77 548.7,373.46 549.32,372.75 549.94,372.85 550.56,371.87 551.18,373.0 551.8,374.38 552.42,374.43 553.04,375.45 553.66,377.31 554.28,377.12 554.9,378.96 555.52,381.62 556.14,380.65 556.76,380.68 557.38,380.47 558.0,382.11 558.62,381.86 559.24,382.45 559.86,382.52 560.48,383.9 561.1,385.32 561.72,384.95 562.34,387.48 562.96,388.47 563.58,386.5 564.2,388.05 564.82,388.15 565.44,388.89 566.06,389.32 566.68,387.81 567.3,388.37 567.92,390.5 568.54,389.72 569.16,388.95 569.78,386.33 570.4,384.12 571.02,383.62 571.64,383.87 572.26,384.03 572.88,384.29 573.5,386.64 574.12,385.41 574.74,384.8 575.36,385.9 575.98,386.53 576.6,384.92 577.22,383.77 577.84,384.5 578.46,384.74 579.08,383.22 579.7,383.38 580.32,382.95 580.94,383.52 581.56,383.09 582.18,382.72 582.8,382.08 583.42,382.97 584.04,383.63 584.66,382.71 585.28,383.77 585.9,382.97 586.52,383.59 587.14,384.83 587.76,386.5 588.38,385.65 589.0,385.08 589.62,384.94 590.24,383.08 590.86,383.2 591.48,379.78 592.1,377.56 592.72,374.42 593.34,372.64 593.96,373.5 594.58,374.04 595.2,373.36 595.82,374.25 596.44,373.42 597.06,372.2 597.68,372.14 598.3,369.69 598.92,368.87 599.54,369.69 600.16,371.88 600.78,372.52 601.4,371.34 602.02,368.98 602.64,367.94 603.26,368.04 603.88,365.43 604.5,369.12 605.12,368.78 605.74,369.9 606.36,371.32 606.98,373.23 607.6,372.05 608.22,370.82 608.84,373.12 609.46,374.86 610.08,375.9 610.7,378.57 611.32,377.8 611.94,377.62 612.56,378.14 613.18,375.69 613.8,374.7 614.42,370.31 615.04,367.93 615.66,364.25 616.28,366.3 616.9,366.06 617.52,367.12 618.14,370.99 618.76,371.81 619.38,372.85 620.0,374.03 620.62,375.18 621.24,376.41 621.86,378.82 622.48,380.1 623.1,381.39 623.72,380.58 624.34,380.09 624.96,378.74 625.58,376.7 626.2,376.97 626.82,376.88 627.44,376.03 628.06,378.38 628.68,378.89 629.3,377.8 629.92,378.57 630.54,378.03 631.16,375.6 631.78,377.22 632.4,376.6 633.02,376.6 633.64,375.17 634.26,373.15 634.88,369.99 635.5,370.13 636.12,368.1 636.74,365.3 637.36,363.29 637.98,362.86 638.6,363.64 639.22,363.11 639.84,363.25 640.46,359.95 641.08,358.85 641.7,358.61 642.32,358.4 642.94,357.34 643.56,357.55 644.18,359.58 644.8,359.0 645.42,359.95 646.04,361.36 646.66,360.17 647.28,360.6 647.9,358.79 648.52,358.12 649.14,356.23 649.76,354.64 650.38,354.04 651.0,354.48 651.62,351.52 652.24,349.57 652.86,349.16 653.48,346.97 654.1,346.91 654.72,347.7 655.34,347.62 655.96,348.6 656.58,347.26 657.2,349.05 657.82,348.44 658.44,349.86 659.06,351.43 659.68,353.09 660.3,356.02 660.92,357.67 661.54,358.84 662.16,361.17 662.78,362.11 663.4,358.25 664.02,355.1 664.64,352.29 665.26,347.9 665.88,342.48 666.5,343.61 667.12,343.21 667.74,338.06 668.36,336.31 668.98,333.88 669.6,331.78 670.22,329.02 670.84,325.51 671.46,325.16 672.08,326.54 672.7,328.64 673.32,328.08 673.94,328.25 674.56,328.26 675.18,325.01 675.8,324.15 676.42,322.76 677.04,318.79 677.66,311.97 678.28,309.61 678.9,307.96 679.52,306.57 680.14,304.48 680.76,303.72 681.38,303.48 682.0,303.23 682.62,303.73 683.24,304.11 683.86,305.71 684.48,305.55 685.1,310.14 685.72,306.9 686.34,304.79 686.96,303.16 687.58,299.32 688.2,297.83 688.82,295.4 689.44,291.15 690.06,290.25 690.68,293.87 691.3,293.73 691.92,297.27 692.54,299.4 693.16,299.56 693.78,299.51 694.4,300.24 695.02,299.1 695.64,301.93 696.26,303.23 696.88,306.11 697.5,307.17 698.12,307.63 698.74,309.92 699.36,310.08 699.98,309.75 700.6,306.35 701.22,303.85 701.84,302.52 702.46,301.6 703.08,300.19 703.7,298.87 704.32,296.06 704.94,291.39 705.56,284.47 706.18,277.89 706.8,274.97 707.42,280.52 708.04,285.84 708.66,286.99 709.28,285.76 709.9,285.4 710.52,284.38 711.14,283.18 711.76,285.48 712.38,287.16 713.0,287.57 713.62,291.49 714.24,295.01 714.86,298.65 715.48,303.55 716.1,304.57 716.72,298.88 717.34,294.96 717.96,294.57 718.58,299.62 719.2,300.71 719.82,304.11 720.44,302.17 721.06,301.04 721.68,300.98 722.3,295.36 722.92,297.88 723.54,303.39 724.16,307.88 724.78,309.88 725.4,314.85 726.02,316.62 726.64,316.99 727.26,317.09 727.88,313.61 728.5,313.83 729.12,311.49 729.74,310.34 730.36,310.18 730.98,308.28 731.6,305.08 732.22,303.24 732.84,305.03 733.46,305.39 734.08,303.86 734.7,302.99 735.32,300.92 735.94,298.91 736.56,293.87 737.18,292.83 737.8,293.04 738.42,292.42 739.04,291.68 739.66,286.76 740.28,285.64 740.9,284.42 741.52,284.89 742.14,282.01 742.76,281.25 743.38,281.09 744.0,281.76 744.62,279.87 745.24,279.56 745.86,276.8 746.48,275.7 747.1,273.5 747.72,272.19 748.34,269.87 748.96,266.94 749.58,267.53 750.2,264.07 750.82,254.53 751.44,252.46 752.06,251.02 752.68,248.83 753.3,252.24 753.92,256.26 754.54,259.95 755.16,261.01 755.78,255.97 756.4,255.25 757.02,252.63 757.64,249.9 758.26,248.08 758.88,246.98 759.5,245.03 760.12,242.23 760.74,238.05 761.36,234.11 761.98,231.76 762.6,230.81 763.22,231.91 763.84,230.39 764.46,233.95 765.08,238.83 765.7,245.5 766.32,244.35 766.94,239.73 767.56,234.75 768.18,234.91 768.8,235.1 769.42,233.32 770.04,233.47 770.66,238.62 771.28,245.85 771.9,251.62 772.52,253.47 773.14,254.94 773.76,256.31 774.38,257.17 775.0,257.19 775.62,256.53 776.24,255.72 776.86,255.05 777.48,254.62 778.1,254.67 778.72,256.87 779.34,259.14 779.96,260.18 780.58,263.41 781.2,266.96 781.82,269.44 782.44,274.25 783.06,270.01 783.68,269.39 784.3,266.94 784.92,267.91 785.54,269.63 786.16,266.03 786.78,267.49 787.4,269.06 788.02,269.46 788.64,267.46 789.26,259.54 789.88,255.82 790.5,254.4 791.12,253.27 791.74,251.57 792.36,251.4 792.98,251.95 793.6,254.17 794.22,255.49 794.84,255.31 795.46,258.58 796.08,261.7 796.7,264.99 797.32,266.2 797.94,268.22 798.56,270.57 799.18,272.09 799.8,274.73 800.42,277.63 801.04,276.01 801.66,272.76 802.28,273.26 802.9,273.74 803.52,272.92 804.14,271.88 804.76,271.07 805.38,270.99 806.0,272.9 806.62,272.5 807.24,271.74 807.86,270.46 808.48,271.23 809.1,269.86 809.72,265.29 810.34,262.31 810.96,261.44 811.58,259.42 812.2,259.82 812.82,258.09 813.44,255.38 814.06,254.99 814.68,251.94 815.3,250.13 815.92,248.21 816.54,247.05 817.16,246.68 817.78,245.09 818.4,242.58 819.02,239.82 819.64,238.55 820.26,238.78 820.88,240.98 821.5,242.77 822.12,244.76 822.74,245.91 823.36,246.55 823.98,251.62 824.6,255.46 825.22,261.11 825.84,265.37 826.46,269.12 827.08,269.66 827.7,268.85 828.32,269.23 828.94,268.24 829.56,268.14 830.18,268.71 830.8,271.44 831.42,275.4 832.04,275.83 832.66,276.08 833.28,276.13 833.9,276.52 834.52,279.44 835.14,281.04 835.76,278.33 836.38,276.61 837.0,275.49 837.62,273.73 838.24,272.38 838.86,268.31 839.48,265.87 840.1,265.31 840.72,268.12 841.34,268.97 841.96,269.1 842.58,270.32 843.2,271.31 843.82,272.0 844.44,275.18 845.06,275.28 845.68,276.46 846.3,279.72 846.92,279.91 847.54,277.14 848.16,273.73 848.78,271.96 849.4,272.2 850.02,272.77 850.64,274.09 851.26,274.02 851.88,273.7 852.5,270.06 853.12,267.4 853.74,265.51 854.36,260.71 854.98,259.02 855.6,257.55 856.22,255.1 856.84,254.02 857.46,256.96 858.08,260.63 858.7,262.13 859.32,263.49 859.94,263.21 860.56,264.0 861.18,261.55 861.8,259.26 862.42,256.07 863.04,255.8 863.66,254.52 864.28,254.8 864.9,255.15 865.52,255.6 866.14,256.46 866.76,256.09 867.38,258.44 868.0,257.93 868.62,256.21 869.24,256.4 869.86,255.72 870.48,254.9 871.1,254.9 871.72,255.24 872.34,250.73 872.96,247.71 873.58,246.8 874.2,245.24 874.82,242.73 875.44,244.15 876.06,246.72 876.68,249.5 877.3,253.11 877.92,253.93 878.54,251.86 879.16,253.31 879.78,253.45 880.4,255.28 881.02,254.41 881.64,253.03 882.26,253.46 882.88,249.63 883.5,246.82 884.12,244.65 884.74,241.92 885.36,240.38 885.98,240.78 886.6,238.18 887.22,234.29 887.84,233.83 888.46,237.65 889.08,239.2 889.7,241.3 890.32,241.54 890.94,240.14 891.56,238.66 892.18,235.65 892.8,232.6 893.42,230.87 894.04,230.98 894.66,230.1 895.28,228.74 895.9,230.54 896.52,232.2 897.14,233.73 897.76,234.86 898.38,235.12 899.0,234.16 899.62,232.14 900.24,233.31 900.86,232.78 901.48,230.26 902.1,231.59 902.72,231.93 903.34,229.25 903.96,231.46 904.58,231.58 905.2,232.61 905.82,229.27 906.44,228.82 907.06,228.1 907.68,226.46 908.3,223.28 908.92,221.03 909.54,216.69 910.16,214.23 910.78,212.02 911.4,210.94 912.02,209.6 912.64,208.86 913.26,206.63 913.88,203.93 914.5,202.9 915.12,204.95 915.74,208.47 916.36,211.2 916.98,213.03 917.6,213.51 918.22,210.49 918.84,204.62 919.46,201.0 920.08,198.23 920.7,193.69 921.32,194.35 921.94,193.53 922.56,195.57 923.18,196.25 923.8,194.89 924.42,196.54 925.04,196.08 925.66,198.19 926.28,201.49 926.9,206.91 927.52,212.61 928.14,212.03 928.76,212.21 929.38,211.41 930.0,212.1 930.62,214.33 931.24,216.85 931.86,215.86 932.48,218.7 933.1,219.35 933.72,218.13 934.34,219.57 934.96,220.97 935.58,222.57 936.2,222.25 936.82,225.66 937.44,226.57 938.06,230.36 938.68,230.91 939.3,233.07 939.92,234.15 940.54,234.94 941.16,236.82 941.78,236.61 942.4,236.74 943.02,235.76 943.64,236.87 944.26,240.42 944.88,245.85 945.5,247.37 946.12,247.85 946.74,249.79 947.36,250.89 947.98,251.19 948.6,252.17 949.22,252.81 949.84,253.89 950.46,255.39 951.08,255.3 951.7,251.5 952.32,247.47 952.94,247.07 953.56,245.2 954.18,245.48 954.8,242.6 955.42,242.06 956.04,242.37 956.66,241.89 957.28,242.89 957.9,245.03 958.52,246.9 959.14,248.79 959.76,243.53 960.38,238.1 961.0,236.48 961.62,237.26 962.24,236.85 962.86,235.02 963.48,237.03 964.1,241.03 964.72,244.48 965.34,246.84 965.96,248.53 966.58,245.19 967.2,240.21 967.82,236.45 968.44,237.05 969.06,235.36 969.68,232.85 970.3,231.23 970.92,228.3 971.54,228.68 972.16,228.85 972.78,230.01 973.4,231.65 974.02,229.68 974.64,230.49 975.26,230.56 975.88,230.47 976.5,230.41 977.12,231.75 977.74,231.29 978.36,232.42 978.98,232.93 979.6,235.58 980.22,238.52 980.84,239.63 981.46,240.67 982.08,238.9 982.7,236.4 983.32,232.32 983.94,231.43 984.56,229.24 985.18,227.26 985.8,226.08 986.42,226.95 987.04,229.59 987.66,231.72 988.28,230.95 988.9,233.28 989.52,234.36 990.14,233.06 990.76,231.35 991.38,231.06 992.0,230.21 992.62,229.56 993.24,227.75 993.86,224.34 994.48,223.72 995.1,220.42 995.72,220.03 996.34,215.73 996.96,212.29 997.58,209.13 998.2,209.13 998.82,210.88 999.44,211.31 1000.06,211.18 1000.68,210.48 1001.3,208.01 1001.92,207.47 1002.54,206.93 1003.16,206.0 1003.78,207.61 1004.4,207.65 1005.02,207.99 1005.64,208.12 1006.26,209.03 1006.88,213.71 1007.5,218.25 1008.12,218.51 1008.74,217.69 1009.36,215.7 1009.98,217.67 1010.6,222.26 1011.22,225.15 1011.84,225.28 1012.46,225.14 1013.08,224.24 1013.7,221.69 1014.32,221.0 1014.94,218.51 1015.56,213.65 1016.18,212.4 1016.8,211.09 1017.42,211.59 1018.04,212.64 1018.66,214.45 1019.28,215.73 1019.9,221.08 1020.52,224.28 1021.14,228.36 1021.76,228.46 1022.38,226.46 1023.0,224.9 1023.62,225.38 1024.24,225.92 1024.86,227.72 1025.48,229.32 1026.1,231.34 1026.72,231.95 1027.34,231.4 1027.96,229.72 1028.58,230.96 1029.2,230.5 1029.82,227.74 1030.44,224.27 1031.06,223.47 1031.68,223.42 1032.3,221.66 1032.92,222.82 1033.54,226.1 1034.16,226.44 1034.78,228.44 1035.4,231.0 1036.02,233.19 1036.64,234.4 1037.26,233.97 1037.88,232.77 1038.5,232.44 1039.12,231.84 1039.74,233.11 1040.36,230.45 1040.98,231.13 1041.6,231.05 1042.22,228.48 1042.84,228.96 1043.46,231.55 1044.08,233.16 1044.7,235.21 1045.32,241.35 1045.94,249.2 1046.56,254.32 1047.18,251.88 1047.8,249.83 1048.42,248.99 1049.04,246.62 1049.66,247.44 1050.28,250.06 1050.9,250.39 1051.52,250.86 1052.14,251.95 1052.76,251.49 1053.38,252.83 1054.0,251.34 1054.62,252.57 1055.24,251.89 1055.86,250.64 1056.48,252.24 1057.1,250.22 1057.72,251.44 1058.34,250.9 1058.96,253.71 1059.58,253.75 1060.2,256.87 1060.82,259.73 1061.44,259.48 1062.06,259.71 1062.68,262.81 1063.3,262.62 1063.92,262.31 1064.54,262.31 1065.16,263.23 1065.78,262.21 1066.4,260.93 1067.02,261.22 1067.64,258.84 1068.26,258.07 1068.88,258.22 1069.5,256.02 1070.12,257.35 1070.74,259.02 1071.36,256.89 1071.98,256.12 1072.6,255.12 1073.22,249.45 1073.84,246.59 1074.46,241.88 1075.08,241.85 1075.7,242.05 1076.32,239.87 1076.94,240.2 1077.56,238.85 1078.18,240.88 1078.8,240.55 1079.42,240.12 1080.04,238.47 1080.66,237.12 1081.28,234.54 1081.9,232.96 1082.52,231.63 1083.14,231.19 1083.76,229.29 1084.38,228.7 1085.0,224.81 1085.62,223.1 1086.24,224.56 1086.86,223.36 1087.48,220.99 1088.1,220.82 1088.72,219.55 1089.34,218.2 1089.96,218.29 1090.58,219.72 1091.2,220.48 1091.82,220.76 1092.44,220.28 1093.06,220.08 1093.68,222.6 1094.3,223.21 1094.92,223.31 1095.54,222.78 1096.16,224.15 1096.78,229.71 1097.4,229.99 1098.02,232.05 1098.64,233.62 1099.26,234.09 1099.88,234.51 1100.5,233.92 1101.12,233.14 1101.74,234.25 1102.36,231.77 1102.98,231.36 1103.6,227.32 1104.22,224.92 1104.84,222.91 1105.46,221.85 1106.08,218.27 1106.7,217.1 1107.32,215.32 1107.94,213.31 1108.56,213.37 1109.18,211.75 1109.8,210.68 1110.42,211.43 1111.04,209.65 1111.66,211.55 1112.28,211.98 1112.9,210.3 1113.52,208.94 1114.14,208.44 1114.76,206.07 1115.38,206.27 1116.0,203.85 1116.62,202.0 1117.24,203.48 1117.86,204.84 1118.48,208.18 1119.1,209.48 1119.72,210.76 1120.34,210.68 1120.96,211.02 1121.58,210.59 1122.2,212.69 1122.82,212.79 1123.44,213.18 1124.06,213.53 1124.68,217.02 1125.3,217.71 1125.92,218.44 1126.54,219.6 1127.16,218.76 1127.78,216.03 1128.4,214.58 1129.02,212.5 1129.64,211.76 1130.26,211.08 1130.88,211.71 1131.5,212.47 1132.12,213.83 1132.74,215.09 1133.36,216.42 1133.98,216.77 1134.6,219.84 1135.22,222.48 1135.84,226.69 1136.46,227.44 1137.08,229.73 1137.7,232.43 1138.32,234.78 1138.94,235.15 1139.56,233.45 1140.18,233.45 1140.8,230.54 1141.42,228.12 1142.04,229.81 1142.66,230.09 1143.28,230.2 1143.9,229.81 1144.52,230.07 1145.14,228.71 1145.76,230.21 1146.38,229.65 1147.0,230.06 1147.62,228.14 1148.24,224.29 1148.86,224.36 1149.48,227.32 1150.1,228.06 1150.72,228.59 1151.34,234.61 1151.96,240.44 1152.58,239.99 1153.2,236.32 1153.82,232.49 1154.44,227.99 1155.06,219.37 1155.68,222.94 1156.3,225.77 1156.92,228.17 1157.54,229.58 1158.16,227.34 1158.78,225.65 1159.4,223.97 1160.02,222.12 1160.64,225.3 1161.26,227.83 1161.88,232.44 1162.5,233.99 1163.12,234.56 1163.74,233.82 1164.36,231.9 1164.98,229.26 1165.6,225.94 1166.22,224.25 1166.84,222.29 1167.46,223.76 1168.08,223.65 1168.7,224.78 1169.32,221.34 1169.94,218.22 1170.56,218.5 1171.18,217.07 1171.8,215.97 1172.42,214.47 1173.04,213.05 1173.66,215.73 1174.28,218.35 1174.9,221.48 1175.52,220.46 1176.14,220.2 1176.76,219.23 1177.38,220.64 1178.0,219.64 1178.62,221.48 1179.24,223.39 1179.86,225.13 1180.48,220.04 1181.1,219.88 1181.72,219.26 1182.34,219.15 1182.96,218.8 1183.58,221.56 1184.2,224.07 1184.82,223.62 1185.44,223.64 1186.06,224.49 1186.68,228.33 1187.3,229.67 1187.92,229.45 1188.54,228.67 1189.16,229.95 1189.78,231.41 1190.4,232.24 1191.02,230.17 1191.64,228.21 1192.26,226.93 1192.88,224.11 1193.5,224.78 1194.12,222.6 1194.74,222.99 1195.36,220.26 1195.98,218.85 1196.6,219.26 1197.22,218.07 1197.84,220.19 1198.46,221.17 1199.08,220.98 1199.7,223.13 1200.32,224.28 1200.94,222.15 1201.56,224.79 1202.18,224.99 1202.8,225.44 1203.42,224.33 1204.04,227.64 1204.66,231.42 1205.28,233.31 1205.9,231.04 1206.52,230.09 1207.14,228.15 1207.76,228.6 1208.38,229.16 1209.0,227.15 1209.62,226.86 1210.24,227.53 1210.86,228.69 1211.48,228.12 1212.1,228.08 1212.72,227.63 1213.34,228.05 1213.96,228.97 1214.58,230.71 1215.2,231.18 1215.82,232.87 1216.44,232.35 1217.06,230.62 1217.68,232.22 1218.3,232.92 1218.92,235.19 1219.54,236.92 1220.16,236.94 1220.78,237.85 1221.4,240.74 1222.02,241.09 1222.64,240.43 1223.26,241.03 1223.88,241.22 1224.5,241.5 1225.12,240.99 1225.74,240.54 1226.36,237.4 1226.98,236.84 1227.6,234.69 1228.22,235.7 1228.84,235.81 1229.46,236.0 1230.08,236.89 1230.7,236.46 1231.32,237.75 1231.94,238.43 1232.56,238.27 1233.18,237.7 1233.8,237.41 1234.42,238.22 1235.04,239.69 1235.66,241.25 1236.28,245.68 1236.9,246.34 1237.52,247.14 1238.14,245.94 1238.76,245.67 1239.38,246.15 1240.0,247.16 1240.62,245.56 1241.24,246.48 1241.86,244.27 1242.48,244.16 1243.1,240.15 1243.72,239.11 1244.34,237.88 1244.96,236.8 1245.58,237.58 1246.2,237.77 1246.82,237.85 1247.44,235.79 1248.06,235.38 1248.68,233.34 1249.3,235.0 1249.92,235.68 1250.54,236.67 1251.16,237.06 1251.78,237.98 1252.4,241.38 1253.02,243.61 1253.64,243.51 1254.26,245.27 1254.88,243.56 1255.5,240.78 1256.12,240.21 1256.74,239.02 1257.36,238.2 1257.98,238.02 1258.6,240.3 1259.22,237.43 1259.84,236.1 1260.46,235.14 1261.08,234.56 1261.7,235.52 1262.32,236.96 1262.94,234.8 1263.56,235.09 1264.18,235.02 1264.8,236.07 1265.42,235.04 1266.04,234.52 1266.66,233.69 1267.28,235.46 1267.9,235.91 1268.52,235.85 1269.14,233.19 1269.76,233.55 1270.38,233.19 1271.0,232.16 1271.62,232.11 1272.24,234.42 1272.86,235.82 1273.48,236.3 1274.1,237.21 1274.72,235.93 1275.34,235.7 1275.96,235.36 1276.58,235.31 1277.2,233.1 1277.82,230.96 1278.44,228.95 1279.06,228.01 1279.68,231.33 1280.3,231.77 1280.92,232.26 1281.54,234.65 1282.16,234.07 1282.78,230.5 1283.4,230.5 1284.02,230.36 1284.64,231.04 1285.26,231.95 1285.88,232.73 1286.5,231.77 1287.12,232.11 1287.74,233.27 1288.36,234.08 1288.98,233.1 1289.6,233.3 1290.22,234.78 1290.84,237.34 1291.46,239.97 1292.08,239.96 1292.7,239.02 1293.32,241.08 1293.94,242.65 1294.56,244.26 1295.18,247.69 1295.8,245.89 1296.42,243.36 1297.04,240.63 1297.66,237.88 1298.28,237.9 1298.9,238.09"/>
<line x1="179.1" y1="756.9" x2="266.7" y2="756.9" stroke="#7aa7d9" stroke-width="6" stroke-linecap="round"/>
<g transform="translate(275.72,767.8) scale(1.0599,1)"><text class="leg">Német</text></g><g transform="translate(401.66,767.8) scale(0.9895,1)"><text class="leg">10</text></g><g transform="translate(451.11,767.8) scale(0.9864,1)"><text class="leg">éves</text></g><g transform="translate(536.16,767.8) scale(1.0249,1)"><text class="leg">hozam</text></g>
<line x1="805.6" y1="756.9" x2="892.9" y2="756.9" stroke="#e8660f" stroke-width="6" stroke-linecap="round"/>
<g transform="translate(902.2,767.8) scale(0.9041,1)"><text class="leg">USA</text></g><g transform="translate(982.09,767.8) scale(0.9813,1)"><text class="leg">10</text></g><g transform="translate(1032.02,767.8) scale(0.9796,1)"><text class="leg">éves</text></g><g transform="translate(1116.57,767.8) scale(1.023,1)"><text class="leg">hozam</text></g>
</svg>
</body></html>
